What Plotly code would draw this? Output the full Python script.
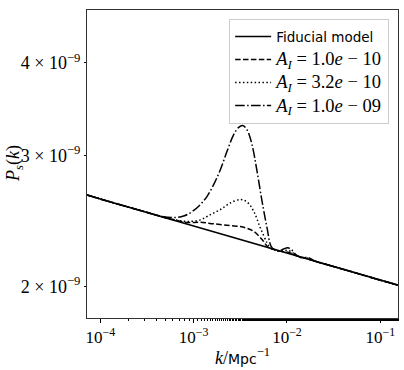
import plotly.graph_objects as go

# k in Mpc^-1, P_s(k)
k_fid = [7.0e-5, 1.0e-4, 1.0e-3, 1.0e-2, 1.0e-1, 1.6e-1]
P_fid = [2.660e-9, 2.624e-9, 2.414e-9, 2.220e-9, 2.041e-9, 2.008e-9]

k_tail = [7.5e-3, 8.3e-3, 9.2e-3, 1.02e-2, 1.12e-2, 1.25e-2, 1.4e-2, 1.7e-2, 2.0e-2,
          3.0e-2, 5.0e-2, 1.0e-1, 1.6e-1]

# A_I = 1.0e-10 (dashed)
k_A1 = [7.0e-5, 1.0e-4, 2.0e-4, 3.0e-4, 4.5e-4, 6.07e-4, 8.5e-4, 1.18e-3, 1.638e-3,
        2.47e-3, 3.43e-3, 4.40e-3, 5.41e-3, 6.37e-3] + k_tail
P_A1 = [2.660e-9, 2.624e-9, 2.559e-9, 2.522e-9, 2.485e-9, 2.461e-9, 2.440e-9, 2.442e-9, 2.430e-9,
        2.417e-9, 2.404e-9, 2.374e-9, 2.314e-9, 2.256e-9,
        2.242e-9, 2.233e-9, 2.229e-9, 2.226e-9, 2.217e-9, 2.203e-9, 2.193e-9, 2.179e-9, 2.164e-9,
        2.133e-9, 2.094e-9, 2.041e-9, 2.008e-9]

# A_I = 3.2e-10 (dotted)
k_A2 = [7.0e-5, 1.0e-4, 2.0e-4, 3.0e-4, 4.5e-4, 6.07e-4, 8.5e-4, 1.18e-3, 1.51e-3,
        1.932e-3, 2.47e-3, 3.17e-3, 3.73e-3, 4.40e-3, 5.19e-3, 6.12e-3, 6.64e-3] + k_tail
P_A2 = [2.660e-9, 2.624e-9, 2.559e-9, 2.522e-9, 2.486e-9, 2.463e-9, 2.448e-9, 2.460e-9, 2.500e-9,
        2.539e-9, 2.592e-9, 2.619e-9, 2.600e-9, 2.526e-9, 2.399e-9, 2.291e-9, 2.256e-9,
        2.240e-9, 2.233e-9, 2.236e-9, 2.238e-9, 2.228e-9, 2.205e-9, 2.192e-9, 2.183e-9, 2.164e-9,
        2.133e-9, 2.094e-9, 2.041e-9, 2.008e-9]

# A_I = 1.0e-09 (dash-dot)
k_A3 = [7.0e-5, 1.0e-4, 2.0e-4, 3.0e-4, 4.5e-4, 6.07e-4, 7.81e-4, 9.61e-4, 1.18e-3, 1.393e-3,
        1.638e-3, 1.932e-3, 2.279e-3, 2.685e-3, 3.037e-3, 3.35e-3, 3.73e-3, 4.22e-3, 4.78e-3,
        5.41e-3, 6.12e-3, 6.76e-3] + k_tail
P_A3 = [2.660e-9, 2.624e-9, 2.559e-9, 2.523e-9, 2.487e-9, 2.478e-9, 2.489e-9, 2.523e-9, 2.579e-9,
        2.646e-9, 2.743e-9, 2.873e-9, 3.041e-9, 3.202e-9, 3.275e-9, 3.295e-9, 3.251e-9, 3.105e-9,
        2.858e-9, 2.605e-9, 2.399e-9, 2.267e-9,
        2.238e-9, 2.235e-9, 2.248e-9, 2.256e-9, 2.243e-9, 2.208e-9, 2.190e-9, 2.188e-9, 2.164e-9,
        2.133e-9, 2.094e-9, 2.041e-9, 2.008e-9]

y_tickvals = [2e-9, 3e-9, 4e-9]
y_ticktext = ["2 × 10<sup>−9</sup>", "3 × 10<sup>−9</sup>", "4 × 10<sup>−9</sup>"]
x_tickvals = [1e-4, 1e-3, 1e-2, 1e-1]
x_ticktext = ["10<sup>−4</sup>", "10<sup>−3</sup>", "10<sup>−2</sup>", "10<sup>−1</sup>"]

serif = "Liberation Serif"
sans = "DejaVu Sans"


def leg(t):
    # bigger glyphs than the legend font, so the row spacing stays tight
    return f"<span style='font-size:18.5px'>{t}</span>"


fig = go.Figure()
fig.add_trace(go.Scatter(x=k_fid, y=P_fid, mode="lines",
                         name=f"<span style='font-family:{sans};font-size:13.5px'>Fiducial model</span>",
                         line=dict(color="black", width=1.6)))
fig.add_trace(go.Scatter(x=k_A1, y=P_A1, mode="lines", line_shape="spline",
                         name=leg("<i>A<sub>I</sub></i> = 1.0<i>e</i> − 10"),
                         line=dict(color="black", width=1.5, dash="5.5px,2.4px")))
fig.add_trace(go.Scatter(x=k_A2, y=P_A2, mode="lines", line_shape="spline",
                         name=leg("<i>A<sub>I</sub></i> = 3.2<i>e</i> − 10"),
                         line=dict(color="black", width=1.5, dash="1.5px,2.4px")))
fig.add_trace(go.Scatter(x=k_A3, y=P_A3, mode="lines", line_shape="spline",
                         name=leg("<i>A<sub>I</sub></i> = 1.0<i>e</i> − 09"),
                         line=dict(color="black", width=1.5, dash="9.6px,2.4px,1.5px,2.4px")))

fig.update_layout(
    width=404, height=370,
    margin=dict(l=87, r=6, t=10, b=52, autoexpand=False),
    plot_bgcolor="white", paper_bgcolor="white",
    font=dict(family=serif, size=15, color="black"),
    showlegend=True,
    legend=dict(x=0.457, y=0.971, xanchor="left", yanchor="top",
                bgcolor="rgba(255,255,255,0.8)", bordercolor="#cccccc", borderwidth=1,
                font=dict(family=serif, size=15.4), tracegroupgap=0, itemwidth=36),
    annotations=[dict(text="<i>P<sub>s</sub></i>(<i>k</i>)", xref="paper", yref="paper",
                      x=-0.235, y=0.503, xanchor="center", yanchor="middle",
                      textangle=-90, showarrow=False, font=dict(size=18))],
)
fig.update_xaxes(type="log", range=[-4.143, -0.81], tickvals=x_tickvals, ticktext=x_ticktext,
                 tickfont=dict(size=17), automargin=False,
                 ticks="outside", ticklen=4, tickcolor="black", showgrid=False, zeroline=False,
                 showline=True, linecolor="#333", linewidth=1, mirror=True,
                 minor=dict(ticks="outside", ticklen=2, tickcolor="black", showgrid=False),
                 title=dict(text=f"<i>k</i>/<span style='font-family:{sans};font-size:14px'>Mpc</span><sup>−1</sup>",
                            standoff=4, font=dict(size=18)))
fig.update_yaxes(type="log", range=[-8.741, -8.327], tickvals=y_tickvals, ticktext=y_ticktext,
                 tickfont=dict(size=18), automargin=False,
                 ticks="outside", ticklen=2, tickcolor="black", showgrid=False, zeroline=False,
                 showline=True, linecolor="#333", linewidth=1, mirror=True)

fig.write_html("out.html", config={"displayModeBar": False},
               post_script="document.body.style.margin='0px';")
